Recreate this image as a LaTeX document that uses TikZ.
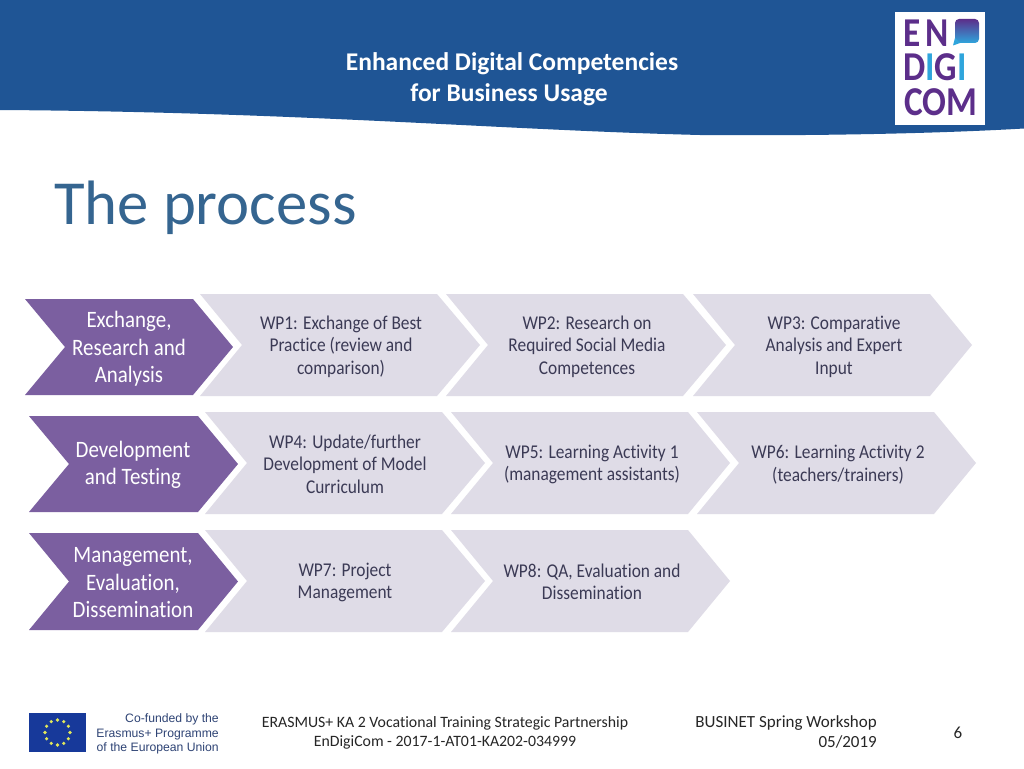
\documentclass[tikz,border=0pt]{standalone}
\usepackage{fontspec}
\setmainfont[Ligatures=NoCommon]{Carlito}
\newfontfamily\arialf{Liberation Sans}
\newfontfamily\narrowf[FakeStretch=0.89,Ligatures=NoCommon]{Carlito}
\newfontfamily\logof[FakeStretch=0.86,LetterSpace=12]{Carlito}
\newfontfamily\logotight[FakeStretch=0.86]{Carlito}
\usetikzlibrary{shapes.geometric}
\definecolor{band}{HTML}{1F5595}
\definecolor{titleblue}{HTML}{356590}
\definecolor{chevpurple}{HTML}{7B5FA0}
\definecolor{chevgrey}{HTML}{DFDCE7}
\definecolor{wptext}{HTML}{3B3A55}
\definecolor{logopurple}{HTML}{5C2E8A}
\definecolor{logoblue}{HTML}{2FA5DC}
\definecolor{eublue}{HTML}{17399A}
\definecolor{eustar}{HTML}{E2E85A}
\definecolor{eutext}{HTML}{2F4475}
\newcommand{\fsz}[1]{\fontsize{#1}{#1}\selectfont}
\newcommand{\lb}[1]{{\color{logoblue}#1}}
% #1 style, #2 left, #3 top, #4 shoulder, #5 tip, #6 bottom, #7 notch
\newcommand{\chev}[7]{\path[#1] (#2,#3) -- (#4,#3) -- (#5,{(#3+#6)/2}) -- (#4,#6) -- (#2,#6) -- (#7,{(#3+#6)/2}) -- cycle;}
\tikzset{
  x=1pt,y=-1pt,
  phase/.style={fill=chevpurple},
  work/.style={fill=chevgrey},
  phasetext/.style={text=white,align=center,font=\narrowf\fsz{23.5},inner sep=0pt},
  wptxt/.style={text=wptext,align=center,font=\narrowf\fsz{19.5},inner sep=0pt},
  headtext/.style={text=white,font=\bfseries\fsz{25.5},inner sep=0pt},
  foot/.style={text=black!85,font=\fsz{15.8},inner sep=0pt},
  footb/.style={text=black!85,font=\fsz{17},inner sep=0pt},
  logoL/.style={text=logopurple,font=\logof\bfseries\fsz{41},inner sep=0pt,anchor=base west,text height=26pt,text depth=0pt},
  logoT/.style={logoL,font=\logotight\bfseries\fsz{41}},
}
\begin{document}
\begin{tikzpicture}
\useasboundingbox (0,0) rectangle (1024,768);
\fill[white] (0,0) rectangle (1024,768);
% header band
\fill[band] (0,0) -- (1024,0) -- (1024,128.5) .. controls (930,134) and (800,136) .. (700,135) .. controls (500,130) and (300,112) .. (0,110) -- cycle;
\node[headtext] (h1) at (512,64) {Enhanced Digital Competencies};
\node[headtext] (h2) at (509,95) {for Business Usage};
% logo
\fill[white] (895,12) rectangle (985,125);
\node[logoL] (lEN) at (903,46) {EN};
\shade[top color=logopurple,middle color=logopurple!60!logoblue,bottom color=logoblue,rounded corners=4pt] (955,19) rectangle (979,43);
\fill[logoblue] (955,38) -- (960,43) -- (953,45.5) -- cycle;
\node[logoL] (lDIGI) at (903,81) {D\lb{I}G\lb{I}};
\node[logoT] (lCOM) at (904,115) {COM};
% title
\node[text=titleblue,font=\fsz{62.7},inner sep=0pt,anchor=base west] (title) at (54,224) {The process};
% row 1
\chev{phase}{25}{299}{193}{233}{395}{65}
\chev{work}{200}{294}{437}{480}{396}{242}
\chev{work}{446}{294}{683}{726}{396}{488}
\chev{work}{693}{294}{930}{972}{396}{735}
\node[phasetext] (p1) at (129,349) {Exchange,\\[4pt]Research and\\[4pt]Analysis};
\node[wptxt] (w1) at (341,346.5) {WP1: Exchange of Best\\[3pt]Practice (review and\\[3pt]comparison)};
\node[wptxt] (w2) at (587,346.5) {WP2: Research on\\[3pt]Required Social Media\\[3pt]Competences};
\node[wptxt] (w3) at (834,346.5) {WP3: Comparative\\[3pt]Analysis and Expert\\[3pt]Input};
% row 2
\chev{phase}{29}{416}{198}{238}{512}{69}
\chev{work}{205}{412}{442}{485}{514}{247}
\chev{work}{451}{412}{688}{730}{514}{493}
\chev{work}{697}{412}{934}{976}{514}{739}
\node[phasetext] (p2) at (133,465) {Development\\[4pt]and Testing};
\node[wptxt] (w4) at (345,464) {WP4: Update/further\\[3pt]Development of Model\\[3pt]Curriculum};
\node[wptxt] (w5) at (592,464.5) {WP5: Learning Activity 1\\[3pt](management assistants)};
\node[wptxt] (w6) at (838,464.5) {WP6: Learning Activity 2\\[3pt](teachers/trainers)};
% row 3
\chev{phase}{29}{533}{198}{238}{630}{69}
\chev{work}{205}{530}{442}{485}{632}{247}
\chev{work}{451}{530}{688}{730}{632}{493}
\node[phasetext] (p3) at (133,583) {Management,\\[4pt]Evaluation,\\[4pt]Dissemination};
\node[wptxt] (w7) at (345,582.5) {WP7: Project\\[3pt]Management};
\node[wptxt] (w8) at (592,582) {WP8: QA, Evaluation and\\[3pt]Dissemination};
% EU flag
\fill[eublue] (29,713) rectangle (86,752);
\foreach \a in {0,30,...,330}{\fill[eustar] ({57.5+12.5*cos(\a)},{732.5+12.5*sin(\a)}) circle (1.8);}
\node[text=eutext,font=\arialf\fsz{12.2},align=right,anchor=east,inner sep=0pt] (eu) at (219,734) {Co-funded by the\\[2.6pt]Erasmus+ Programme\\[2.6pt]of the European Union};
% footer
\node[foot] (f1) at (445,723.5) {ERASMUS+ KA 2 Vocational Training Strategic Partnership};
\node[foot] (f2) at (445,742) {EnDigiCom - 2017-1-AT01-KA202-034999};
\node[footb,align=right,anchor=east] (f3) at (877,732) {BUSINET Spring Workshop\\[3pt]05/2019};
\node[footb] (f4) at (958,733) {6};
\end{tikzpicture}
\end{document}
